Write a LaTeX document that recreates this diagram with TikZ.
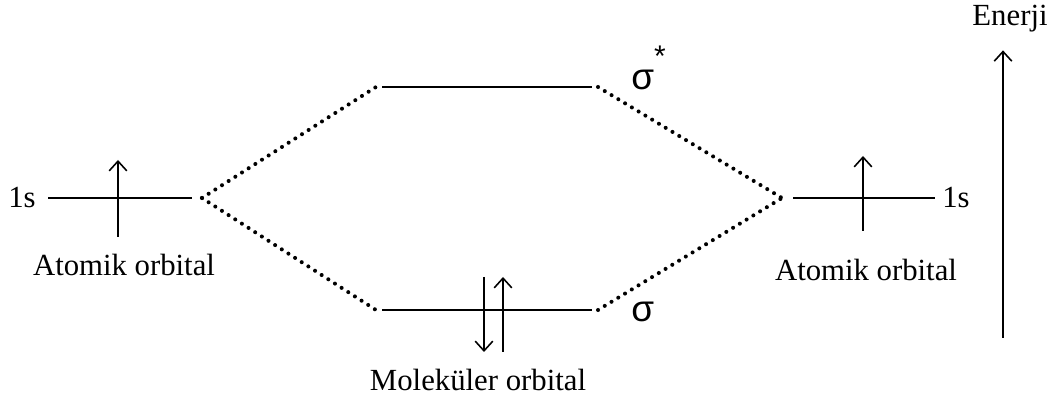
\documentclass[tikz,border=0pt]{standalone}
\usepackage{fontspec}
\setmainfont{Liberation Serif}
\newfontfamily\sigfont{Liberation Sans}
\usetikzlibrary{arrows.meta,positioning}

\begin{document}
\begin{tikzpicture}[x=0.02cm,y=-0.02cm,
          lvl/.style={line width=1.7pt},
          spin/.style={line width=0.9pt,-{Straight Barb[length=5.5pt,width=10pt,line width=0.9pt]}},
          corr/.style={line width=2.3pt,line cap=round,dash pattern=on 0pt off 4.5pt},
          txt/.style={font=\fontsize{17.5}{20}\selectfont,inner sep=0pt},
          sig/.style={font=\sigfont\fontsize{21}{24}\selectfont,inner sep=0pt}
        ]
        \useasboundingbox (0,0) rectangle (1057,401);
        % orbital levels
        \coordinate (aoL-w) at (48,198);  \coordinate (aoL-e) at (192,198);
        \coordinate (mos-w) at (382,87);  \coordinate (mos-e) at (592,87);
        \coordinate (mob-w) at (382,310); \coordinate (mob-e) at (592,310);
        \coordinate (aoR-w) at (793,198); \coordinate (aoR-e) at (935,198);
        \draw[lvl] (aoL-w) -- (aoL-e);
        \draw[lvl] (mos-w) -- (mos-e);
        \draw[lvl] (mob-w) -- (mob-e);
        \draw[lvl] (aoR-w) -- (aoR-e);
        % correlation lines
        \coordinate (jL) at (202,198);
        \coordinate (jR) at (782,198);
        \coordinate (js-w) at (376,87);  \coordinate (js-e) at (598,87);
        \coordinate (jb-w) at (376,310); \coordinate (jb-e) at (598,310);
        \draw[corr] (jL) -- (js-w);
        \draw[corr] (jL) -- (jb-w);
        \draw[corr] (js-e) -- (jR);
        \draw[corr] (jb-e) -- (jR);
        % electrons
        \coordinate (eL-b) at (118,237);  \coordinate (eL-t) at (118,160);
        \coordinate (eR-b) at (863,231);  \coordinate (eR-t) at (863,156);
        \coordinate (e1-t) at (484,277);  \coordinate (e1-b) at (484,352);
        \coordinate (e2-b) at (503,352);  \coordinate (e2-t) at (503,277);
        \draw[spin] (eL-b) -- (eL-t);
        \draw[spin] (eR-b) -- (eR-t);
        \draw[spin] (e1-t) -- (e1-b);
        \draw[spin] (e2-b) -- (e2-t);
        % labels
        \node[txt,anchor=east] (sL) at (36,198) {1s};
        \node[txt,anchor=west] (sR) at (942,198) {1s};
        \node[txt] (aoL) at (124,265) {Atomik orbital};
        \node[txt] (aoR) at (866,270) {Atomik orbital};
        \node[txt] (mo)  at (478,380) {Moleküler orbital};
        \node[sig,anchor=west] (sigs) at (631,68) {σ\raisebox{1.15ex}{\fontsize{17}{18}\selectfont *}};
        \node[sig,anchor=west] (sigb) at (631,312) {σ};
        % energy axis
        \node[txt] (en) at (1010,19) {Enerji};
        \coordinate (ax) at (1003,338);
        \draw[spin] (ax) -- ([yshift=-10pt]en.south -| ax) coordinate (axtop);
      \end{tikzpicture}
\end{document}
